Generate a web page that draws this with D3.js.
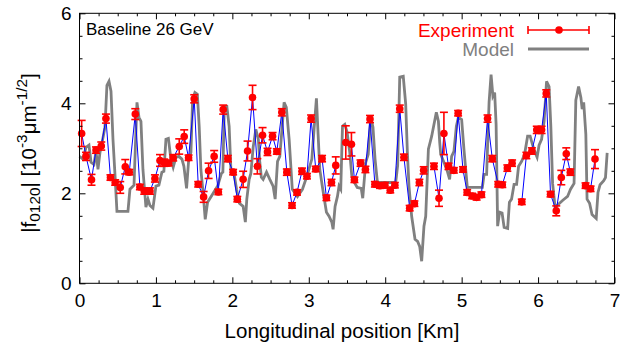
<!DOCTYPE html>
<html><head><meta charset="utf-8">
<script src="https://cdn.jsdelivr.net/npm/d3@7"></script>
<style>body{margin:0;background:#fff}svg{display:block}text{font-family:"Liberation Sans",Arial,sans-serif}</style>
</head><body><svg id="c" width="633" height="354"></svg>
<script>
// Experiment: position (km), value, error
const expX = [0.028,0.085,0.157,0.216,0.285,0.346,0.405,0.467,0.533,0.599,0.651,0.730,0.790,0.847,0.922,0.987,1.053,1.108,1.166,1.226,1.305,1.370,1.427,1.501,1.553,1.624,1.689,1.762,1.817,1.880,1.941,2.010,2.065,2.141,2.199,2.264,2.327,2.395,2.460,2.526,2.582,2.647,2.713,2.781,2.846,2.911,2.976,3.030,3.091,3.174,3.231,3.297,3.353,3.484,3.558,3.597,3.677,3.741,3.801,3.865,3.931,3.996,4.066,4.126,4.190,4.245,4.320,4.382,4.447,4.503,4.638,4.704,4.768,4.828,4.898,4.954,5.017,5.072,5.137,5.196,5.259,5.339,5.401,5.478,5.532,5.598,5.660,5.787,5.847,5.919,5.983,6.046,6.107,6.163,6.238,6.304,6.369,6.422,6.621,6.687,6.745];
const expY = [3.33,2.82,2.30,2.96,3.05,3.66,2.35,2.24,2.13,2.59,2.47,3.76,2.14,2.05,2.05,2.33,2.73,2.68,2.67,2.79,3.04,3.26,2.79,4.10,2.20,1.92,2.50,2.82,2.03,3.86,2.77,2.47,1.87,2.31,2.94,4.13,2.60,3.29,2.92,3.27,2.93,3.80,2.47,1.73,2.02,2.49,2.38,3.66,2.54,2.77,1.90,2.24,2.62,3.13,3.09,2.30,2.67,2.53,3.65,2.20,2.17,2.18,2.07,2.18,3.88,2.80,1.67,1.77,2.24,2.51,2.60,1.89,3.33,2.60,2.51,3.78,2.53,2.02,1.94,1.91,1.97,3.66,2.77,2.20,2.19,2.56,2.67,1.81,2.84,2.94,3.41,3.41,4.22,1.98,1.61,2.35,2.88,2.47,2.17,2.10,2.76];
const expErr = [0.29,0.09,0.12,0.07,0.09,0.10,0.06,0.06,0.13,0.16,0.06,0.12,0.06,0.07,0.07,0.08,0.13,0.08,0.06,0.07,0.17,0.15,0.06,0.09,0.06,0.12,0.17,0.13,0.06,0.10,0.07,0.06,0.06,0.18,0.22,0.27,0.17,0.17,0.08,0.08,0.06,0.08,0.07,0.06,0.06,0.07,0.06,0.08,0.06,0.07,0.06,0.07,0.19,0.37,0.26,0.06,0.07,0.07,0.08,0.06,0.06,0.06,0.06,0.06,0.08,0.07,0.06,0.06,0.07,0.08,0.07,0.18,0.47,0.07,0.06,0.06,0.06,0.06,0.06,0.06,0.06,0.08,0.07,0.06,0.06,0.07,0.07,0.06,0.07,0.07,0.08,0.08,0.08,0.06,0.11,0.16,0.13,0.07,0.06,0.06,0.21];
// Model
const modX = [0.000,0.045,0.085,0.124,0.151,0.189,0.216,0.242,0.268,0.308,0.333,0.359,0.386,0.412,0.438,0.464,0.490,0.634,0.660,0.713,0.752,0.778,0.804,0.830,0.869,0.896,0.922,0.961,1.000,1.039,1.078,1.104,1.131,1.163,1.196,1.226,1.261,1.301,1.340,1.366,1.401,1.427,1.458,1.480,1.510,1.542,1.566,1.588,1.618,1.645,1.676,1.741,1.807,1.856,1.876,1.895,1.928,1.958,1.981,2.019,2.055,2.092,2.141,2.170,2.189,2.220,2.242,2.272,2.307,2.340,2.359,2.379,2.403,2.447,2.490,2.533,2.560,2.591,2.621,2.677,2.706,2.743,2.784,2.852,2.917,2.983,3.040,3.069,3.100,3.122,3.144,3.183,3.231,3.265,3.301,3.318,3.344,3.375,3.396,3.418,3.441,3.471,3.501,3.536,3.562,3.588,3.634,3.686,3.706,3.745,3.778,3.810,3.840,3.867,3.898,4.137,4.163,4.190,4.236,4.268,4.290,4.311,4.346,4.390,4.424,4.451,4.477,4.507,4.530,4.565,4.608,4.669,4.696,4.713,4.726,4.768,4.813,4.843,4.869,4.899,4.931,4.957,5.000,5.030,5.074,5.271,5.294,5.327,5.359,5.385,5.409,5.432,5.451,5.471,5.496,5.529,5.556,5.602,5.625,5.653,5.686,5.719,5.745,5.785,5.823,5.863,5.896,5.929,5.960,5.987,6.013,6.046,6.079,6.111,6.144,6.167,6.190,6.223,6.320,6.386,6.425,6.471,6.494,6.530,6.560,6.577,6.597,6.625,6.641,6.674,6.706,6.761,6.784,6.811,6.859,6.882,6.904];
const modY = [2.82,2.76,3.02,3.07,2.69,2.64,2.93,2.53,2.91,3.24,3.47,4.40,4.49,4.27,3.20,2.42,1.60,1.60,2.09,2.18,4.02,3.69,3.60,2.53,1.69,1.87,1.73,1.67,2.16,2.18,2.47,2.49,3.20,3.22,2.76,2.58,2.80,2.82,2.76,2.60,2.11,2.71,2.91,4.09,4.24,4.20,3.49,2.53,2.00,1.42,1.80,1.98,2.16,2.44,2.47,3.93,3.93,3.49,2.53,2.47,2.09,1.78,1.71,1.36,1.87,2.31,2.44,3.02,3.42,3.20,2.69,2.36,2.31,2.47,2.31,2.16,1.87,2.71,2.82,4.02,3.91,3.20,2.09,1.93,2.09,2.42,2.76,3.42,4.11,3.31,2.53,2.09,1.58,1.49,1.36,1.20,1.71,1.93,2.16,2.09,3.49,3.53,3.36,2.91,2.40,2.27,2.13,2.11,1.89,2.69,2.87,3.69,3.47,2.76,2.24,2.24,2.62,4.58,4.60,3.98,2.91,2.16,1.49,0.98,0.93,0.82,0.49,1.27,1.49,2.98,3.27,3.80,3.60,3.13,2.87,2.69,2.49,2.31,2.82,2.93,3.49,3.69,3.64,2.98,2.13,2.13,2.42,2.42,4.02,4.64,4.16,4.24,3.53,1.27,1.58,1.56,1.24,1.22,1.80,1.87,2.20,2.20,2.60,2.71,2.86,3.27,3.27,3.07,2.91,2.80,3.07,3.20,3.60,4.49,4.37,3.49,2.22,1.69,1.84,1.93,2.09,2.22,4.07,4.37,4.13,3.87,4.02,3.31,1.87,1.78,1.53,1.44,2.02,2.19,2.28,2.35,2.90];
const xTicks = [0,1,2,3,4,5,6,7];
const yTicks = [0,2,4,6];
const xTitle = "Longitudinal position [Km]";
const panelLabel = "Baseline 26 GeV";
const legendLabels = ["Experiment","Model"];

const svg = d3.select("#c");
const L=79.5,R=614.5,T=13.3,B=283.3;
const x = d3.scaleLinear().domain([0,7]).range([L,R]);
const y = d3.scaleLinear().domain([0,6]).range([B,T]);
const FS = 19;
const fmt = d3.format("d");

// model line
const modData = modX.map((v,i)=>[v,modY[i]]);
svg.append("path").datum(modData)
  .attr("fill","none").attr("stroke","#808080").attr("stroke-width",2.8)
  .attr("d", d3.line().x(d=>x(d[0])).y(d=>y(d[1])));

// experiment
const expData = expX.map((v,i)=>({x:v,y:expY[i],e:expErr[i]}));
const segs=[]; let cur=[];
expData.forEach((d,i)=>{ if(i>0 && d.x-expData[i-1].x>0.1){segs.push(cur);cur=[];} cur.push(d);});
segs.push(cur);
const gE = svg.append("g");
segs.forEach(s=>{
  gE.append("path").datum(s).attr("fill","none").attr("stroke","#0000ff").attr("stroke-width",1)
    .attr("d", d3.line().x(d=>x(d.x)).y(d=>y(d.y)));
});
const eb = gE.selectAll("g.eb").data(expData).enter().append("g");
eb.append("line").attr("x1",d=>x(d.x)).attr("x2",d=>x(d.x)).attr("y1",d=>y(d.y-d.e)).attr("y2",d=>y(d.y+d.e))
  .attr("stroke","#ff0000").attr("stroke-width",1.6);
eb.append("line").attr("x1",d=>x(d.x)-4).attr("x2",d=>x(d.x)+4).attr("y1",d=>y(d.y-d.e)).attr("y2",d=>y(d.y-d.e))
  .attr("stroke","#ff0000").attr("stroke-width",1.6);
eb.append("line").attr("x1",d=>x(d.x)-4).attr("x2",d=>x(d.x)+4).attr("y1",d=>y(d.y+d.e)).attr("y2",d=>y(d.y+d.e))
  .attr("stroke","#ff0000").attr("stroke-width",1.6);
eb.append("circle").attr("cx",d=>x(d.x)).attr("cy",d=>y(d.y)).attr("r",3.8).attr("fill","#ff0000");

// axes
function styleAx(g){ g.select(".domain").remove(); g.selectAll("line").attr("stroke","#000");
  g.selectAll("text").attr("font-size",FS).attr("font-family","Liberation Sans, Arial, sans-serif").attr("fill","#000"); }
const xMinor = d3.range(0,7.01,0.25).filter(v=>Math.abs(v-Math.round(v))>1e-6);
const yMinor = d3.range(0,6.01,0.5).filter(v=>Math.abs(v/2-Math.round(v/2))>1e-6);
svg.append("g").attr("transform",`translate(0,${B})`).call(d3.axisBottom(x).tickValues(xTicks).tickFormat(fmt).tickSizeInner(-6).tickSizeOuter(0).tickPadding(10)).call(styleAx);
svg.append("g").attr("transform",`translate(0,${B})`).call(d3.axisBottom(x).tickValues(xMinor).tickFormat("").tickSizeInner(-3).tickSizeOuter(0)).call(styleAx);
svg.append("g").attr("transform",`translate(0,${T})`).call(d3.axisTop(x).tickValues(xTicks).tickFormat("").tickSizeInner(-6).tickSizeOuter(0)).call(styleAx);
svg.append("g").attr("transform",`translate(0,${T})`).call(d3.axisTop(x).tickValues(xMinor).tickFormat("").tickSizeInner(-3).tickSizeOuter(0)).call(styleAx);
svg.append("g").attr("transform",`translate(${L},0)`).call(d3.axisLeft(y).tickValues(yTicks).tickFormat(fmt).tickSizeInner(-6).tickSizeOuter(0).tickPadding(8)).call(styleAx);
svg.append("g").attr("transform",`translate(${L},0)`).call(d3.axisLeft(y).tickValues(yMinor).tickFormat("").tickSizeInner(-3).tickSizeOuter(0)).call(styleAx);
svg.append("g").attr("transform",`translate(${R},0)`).call(d3.axisRight(y).tickValues(yTicks).tickFormat("").tickSizeInner(-6).tickSizeOuter(0)).call(styleAx);
svg.append("g").attr("transform",`translate(${R},0)`).call(d3.axisRight(y).tickValues(yMinor).tickFormat("").tickSizeInner(-3).tickSizeOuter(0)).call(styleAx);
svg.append("rect").attr("x",L).attr("y",T).attr("width",R-L).attr("height",B-T).attr("fill","none").attr("stroke","#000").attr("stroke-width",1);

// titles
svg.append("text").attr("x",342).attr("y",338).attr("text-anchor","middle").attr("font-size",20.5).text(xTitle);
const YF = 20.5;
const yt = svg.append("text").attr("transform",`translate(36,153) rotate(-90)`).attr("text-anchor","middle").attr("font-size",YF);
yt.append("tspan").text("|f");
yt.append("tspan").attr("font-size",YF*0.75).attr("dy",4).text("0120");
yt.append("tspan").attr("dy",-4).text("| [10");
yt.append("tspan").attr("font-size",YF*0.75).attr("dy",-9).text("-3");
yt.append("tspan").attr("dy",9).text("\u03BCm");
yt.append("tspan").attr("font-size",YF*0.75).attr("dy",-9).text("-1/2");
yt.append("tspan").attr("dy",9).text("]");

svg.append("text").attr("x",86).attr("y",35).attr("font-size",17).text(panelLabel);

// legend
svg.append("text").attr("x",514).attr("y",37).attr("text-anchor","end").attr("font-size",FS).attr("fill","#ff0000").text(legendLabels[0]);
svg.append("text").attr("x",514).attr("y",56).attr("text-anchor","end").attr("font-size",FS).attr("fill","#808080").text(legendLabels[1]);
const lg = svg.append("g").attr("stroke","#ff0000").attr("stroke-width",1.6);
lg.append("line").attr("x1",528).attr("x2",589).attr("y1",30).attr("y2",30);
lg.append("line").attr("x1",528).attr("x2",528).attr("y1",26).attr("y2",34);
lg.append("line").attr("x1",589).attr("x2",589).attr("y1",26).attr("y2",34);
svg.append("circle").attr("cx",559).attr("cy",30).attr("r",3.8).attr("fill","#ff0000");
svg.append("line").attr("x1",528).attr("x2",589).attr("y1",49).attr("y2",49).attr("stroke","#808080").attr("stroke-width",2.8);
</script></body></html>
